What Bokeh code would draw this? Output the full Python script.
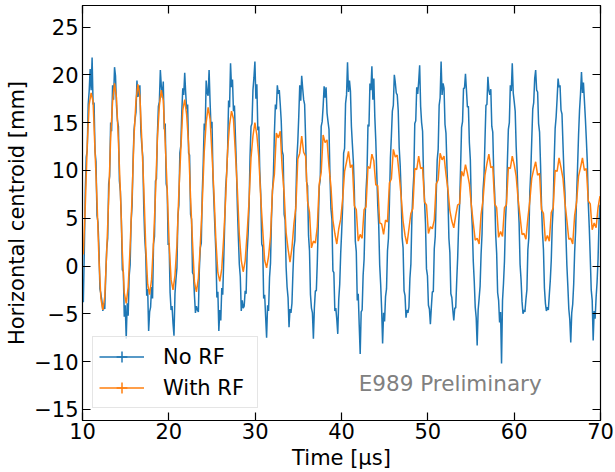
import numpy as np
from bokeh.plotting import figure
from bokeh.models import Range1d, LinearAxis, FixedTicker, Legend, LegendItem, Label
from bokeh.embed import file_html
from bokeh.resources import INLINE

# ---- data ----
# regular sampling grids in microseconds
T0 = 10.0967
DT_NO_RF = 0.112917
DT_WITH_RF = 0.225833

no_rf = [
    -3.8, 1.5, 7.9, 11.4, 12.1, 16.9, 18.3, 20.6, 18.4, 21.8, 16.9, 17.1, 12.0, 10.9, 5.3, 4.6, 1.9, -2.4, -2.9, -3.6, -4.7, -3.9, -4.5, -0.9,
    1.8, 2.9, 8.6, 9.4, 15.0, 14.1, 18.9, 17.4, 20.8, 19.9, 16.8, 15.2, 14.6, 8.9, 7.8, 4.9, -0.4, -0.6, -5.3, -4.1, -7.6, -3.9, -5.2, -1.1,
    0.1, 4.6, 6.3, 10.9, 14.2, 15.3, 16.1, 19.4, 17.7, 18.3, 18.9, 14.1, 12.6, 11.4, 6.1, 2.9, 1.2, -3.1, -2.4, -6.8, -4.8, -4.3, -2.2, -3.4,
    2.3, 3.1, 8.9, 9.1, 13.8, 16.7, 17.2, 20.5, 18.8, 17.6, 19.3, 14.3, 14.9, 8.6, 8.1, 2.2, 2.4, -2.8, -4.6, -4.2, -6.0, -7.3, -2.9, -1.4,
    -0.2, 5.2, 6.4, 11.8, 12.6, 16.1, 18.6, 17.9, 20.2, 18.1, 16.4, 16.9, 11.8, 11.6, 5.4, 4.9, -0.7, -0.9, -3.1, -4.9, -4.2, -4.6, -4.8, -0.4,
    1.9, 2.4, 7.6, 10.8, 14.9, 14.2, 19.4, 18.1, 17.8, 20.5, 17.2, 14.4, 15.1, 9.3, 6.6, 3.9, 1.3, -3.3, -2.7, -6.8, -4.6, -5.7, -2.3, -3.0,
    0.6, 4.4, 8.2, 9.7, 12.0, 17.3, 16.6, 21.2, 18.7, 19.5, 16.2, 16.8, 13.6, 10.5, 6.2, 3.1, 0.2, -1.1, -4.7, -3.6, -4.4, -4.2, -2.6, -2.9,
    1.4, 3.3, 6.2, 11.4, 14.6, 14.9, 18.4, 19.7, 21.4, 17.5, 19.0, 14.2, 14.6, 9.9, 7.5, 2.3, 2.0, -3.4, -3.0, -5.3, -7.5, -4.1, -4.7, -1.2,
    0.3, 5.0, 7.8, 9.6, 13.9, 16.9, 16.4, 18.9, 18.0, 18.4, 16.9, 15.2, 12.0, 11.6, 5.4, 4.8, -0.1, -2.2, -3.3, -6.4, -4.5, -4.9, -3.9, -0.7,
    1.9, 2.7, 6.9, 11.2, 13.0, 15.7, 18.9, 17.3, 19.9, 18.6, 17.4, 16.9, 13.4, 8.8, 8.4, 3.2, 1.6, -3.0, -4.4, -4.9, -7.6, -4.4, -2.6, -2.6,
    0.4, 4.4, 8.3, 9.0, 14.6, 15.1, 16.7, 18.8, 17.6, 18.7, 16.0, 15.1, 14.3, 9.4, 6.0, 4.9, -0.5, -0.7, -4.7, -4.4, -5.6, -7.1, -3.5, -1.9,
    1.3, 3.6, 6.2, 11.8, 12.3, 17.0, 17.9, 21.3, 18.2, 19.4, 18.3, 14.6, 12.7, 10.9, 7.9, 2.6, 1.5, -3.6, -2.9, -6.2, -9.2, -4.8, -4.6, -1.0,
    0.7, 4.8, 7.9, 9.8, 14.8, 14.6, 19.1, 18.4, 20.9, 17.4, 19.6, 15.6, 13.1, 9.7, 6.4, 4.3, 0.1, -1.9, -4.5, -8.1, -4.9, -5.8, -3.2, -2.4,
    1.6, 2.9, 6.7, 11.3, 13.6, 16.2, 16.8, 20.0, 19.2, 18.1, 17.9, 16.3, 12.4, 10.6, 7.7, 3.0, 1.9, -2.6, -3.1, -5.4, -4.6, -4.9, -4.3, -1.3,
    0.2, 4.9, 7.6, 9.5, 14.9, 15.2, 18.7, 18.0, 19.3, 21.0, 16.7, 15.0, 14.1, 9.3, 6.9, 4.4, -0.3, -1.0, -4.1, -4.5, -6.1, -4.3, -2.7, -2.7,
    1.8, 3.1, 7.4, 11.1, 12.2, 16.8, 17.6, 21.4, 17.9, 19.1, 18.6, 14.8, 13.9, 10.4, 7.3, 2.9, 1.4, -2.9, -3.3, -4.6, -5.7, -4.4, -4.4, -1.6,
    0.9, 4.3, 6.5, 10.3, 14.5, 15.1, 18.6, 18.6, 20.1, 18.4, 16.6, 16.7, 12.9, 11.1, 6.3, 4.1, 0.5, -1.6, -4.3, -5.4, -8.3, -4.6, -3.4, -2.1,
    1.2, 3.4, 7.9, 9.4, 13.1, 16.8, 16.9, 19.8, 18.4, 17.9, 18.5, 14.6, 14.0, 9.7, 7.5, 3.3, 1.3, -2.8, -3.6, -5.9, -4.8, -10.2, -3.6, -1.8,
    0.5, 4.6, 6.8, 10.9, 14.3, 15.0, 18.9, 18.3, 21.2, 18.1, 17.2, 16.2, 12.5, 10.1, 6.8, 4.5, 0.2, -1.4, -3.7, -5.0, -4.6, -4.8, -3.5, -2.5,
    1.7, 3.0, 7.7, 9.9, 13.2, 16.4, 17.1, 19.6, 20.5, 18.4, 18.2, 14.9, 14.0, 10.6, 6.4, 3.5, 1.7, -2.3, -3.9, -4.7, -4.3, -4.6, -3.0, -1.5,
    0.6, 4.2, 6.2, 11.0, 14.4, 15.6, 17.5, 19.6, 18.7, 18.9, 16.3, 15.9, 12.8, 9.8, 7.7, 3.4, 0.1, -2.1, -4.5, -5.6, -8.0, -4.9, -4.0, -1.9,
    1.5, 3.7, 7.3, 10.4, 13.7, 16.3, 18.0, 20.3, 18.1, 19.2, 17.3, 15.4, 13.2, 10.8, 6.5, 4.0, 0.9, -2.5, -3.6, -7.8, -4.7, -5.5, -3.3, -1.7,
    0.7, 4.6, 6.4,
]

with_rf = [
    1.2, 6.3, 12.6, 16.9, 18.1, 17.2, 12.0, 6.9, 0.8, -3.4, -4.6, -3.2,
    1.6, 7.0, 13.4, 17.2, 19.1, 17.6, 13.0, 7.8, 1.5, -2.8, -3.9, -2.2,
    2.0, 7.3, 13.6, 17.3, 19.0, 17.8, 13.1, 8.2, 2.1, -1.9, -3.0, -1.4,
    2.5, 7.5, 13.4, 16.8, 18.4, 17.3, 12.9, 8.1, 2.4, -1.4, -2.5, -1.0,
    2.2, 7.7, 12.2, 16.3, 17.4, 15.8, 12.7, 7.1, 2.5, -1.7, -2.7, -1.3,
    2.3, 6.6, 11.9, 15.0, 16.6, 15.4, 11.7, 7.6, 2.6, -0.7, -1.6, -0.3,
    3.0, 7.1, 12.1, 14.8, 16.2, 15.4, 11.8, 8.0, 3.3, 0.6, -0.6, 0.5,
    3.4, 6.8, 11.3, 13.6, 15.0, 13.7, 11.4, 7.1, 3.8, 0.6, -0.2, 1.0,
    3.1, 7.9, 9.6, 13.9, 13.4, 14.1, 10.2, 7.6, 3.5, 1.8, 0.4, 1.9,
    4.4, 6.1, 11.2, 11.8, 13.6, 11.9, 11.5, 6.8, 5.6, 1.9, 2.6, 2.4,
    4.1, 8.6, 9.8, 13.7, 12.9, 13.2, 10.4, 8.3, 4.8, 3.4, 2.3, 3.9,
    4.9, 7.0, 9.9, 10.9, 12.0, 10.3, 10.6, 6.3, 5.9, 2.6, 3.3, 2.9,
    5.9, 6.2, 10.4, 10.2, 11.7, 11.0, 8.5, 8.4, 4.5, 4.4, 3.3, 4.8,
    4.6, 8.7, 9.1, 12.2, 11.4, 11.6, 9.6, 7.3, 4.7, 3.2, 2.3, 3.9,
    5.5, 6.0, 10.2, 10.1, 11.5, 10.2, 10.3, 6.7, 6.4, 3.4, 4.1, 3.9,
    4.8, 8.6, 9.0, 11.8, 11.1, 11.5, 9.6, 8.0, 5.8, 4.7, 4.0, 5.3,
    6.4, 6.5, 9.9, 9.4, 10.6, 9.7, 8.6, 6.4, 4.5, 2.7, 2.9, 2.3,
    5.4, 6.9, 9.5, 10.7, 11.7, 10.3, 10.4, 6.5, 6.1, 3.0, 3.6, 3.1,
    6.1, 6.4, 10.3, 10.2, 11.5, 10.6, 9.4, 7.0, 5.2, 3.3, 3.4, 2.8,
    5.0, 6.8, 9.2, 10.1, 10.9, 9.5, 9.7, 5.9, 5.5, 2.6, 3.2, 2.6,
    5.6, 6.1, 10.0, 9.9, 11.3, 10.3, 9.2, 6.7, 4.8, 2.8, 2.9, 2.3,
    5.3, 6.7, 9.4, 10.3, 11.3, 10.0, 10.2, 6.8, 6.5, 3.8, 4.5, 4.0,
    6.1, 7.3,
]

time_no_rf = T0 + DT_NO_RF * np.arange(len(no_rf))
time_with_rf = T0 + DT_WITH_RF * np.arange(len(with_rf))

series_labels = ["No RF", "With RF"]
series_colors = ["#1f77b4", "#ff7f0e"]

x_ticks = [10, 20, 30, 40, 50, 60, 70]
y_ticks = [-15, -10, -5, 0, 5, 10, 15, 20, 25]
y_tick_labels = {-15: "\u221215", -10: "\u221210", -5: "\u22125", 0: "0",
                 5: "5", 10: "10", 15: "15", 20: "20", 25: "25"}

x_title = "Time [\u03bcs]"
y_title = "Horizontal centroid [mm]"
watermark = "E989 Preliminary"

FONT = "DejaVu Sans"
FS = "21px"

# ---- figure ----
p = figure(width=615, height=472, output_backend="svg", toolbar_location=None,
           x_range=Range1d(10, 70), y_range=Range1d(-16.16, 27.25),
           min_border_left=82, min_border_right=15, min_border_top=5,
           min_border_bottom=52, x_axis_label=x_title, y_axis_label=y_title)
p.grid.visible = False
p.outline_line_color = "black"
p.outline_line_width = 1.2
p.background_fill_color = "white"
p.border_fill_color = "white"

bottom_ax = p.below[0]
left_ax = p.left[0]
bottom_ax.ticker = FixedTicker(ticks=x_ticks)
left_ax.ticker = FixedTicker(ticks=y_ticks)
left_ax.major_label_overrides = y_tick_labels

right_ax = LinearAxis(ticker=FixedTicker(ticks=y_ticks))
top_ax = LinearAxis(ticker=FixedTicker(ticks=x_ticks))
p.add_layout(right_ax, "right")
p.add_layout(top_ax, "above")

for ax in [bottom_ax, left_ax, right_ax, top_ax]:
    ax.major_tick_in = 8
    ax.major_tick_out = 0
    ax.minor_tick_line_color = None
    ax.axis_line_color = "black"
    ax.major_tick_line_color = "black"
    ax.major_tick_line_width = 1.2
    ax.major_label_text_font = FONT
    ax.major_label_text_font_size = FS
    ax.major_label_text_color = "black"
    ax.axis_label_text_font = FONT
    ax.axis_label_text_font_size = FS
    ax.axis_label_text_font_style = "normal"
    ax.axis_label_text_color = "black"

# tick marks only on the top and right sides
for ax in [right_ax, top_ax]:
    ax.major_label_text_font_size = "1px"
    ax.major_label_text_color = None
    ax.major_label_standoff = 0

bottom_ax.major_label_standoff = 2
bottom_ax.axis_label_standoff = 4
left_ax.major_label_standoff = 4
left_ax.axis_label_standoff = 2

# ---- data lines ----
r_blue = p.line(time_no_rf, no_rf, line_color=series_colors[0], line_width=1.5)
r_orange = p.line(time_with_rf, with_rf, line_color=series_colors[1], line_width=1.5)

# error-bar crosses used for the legend symbols (zero size on the data)
c_blue = p.scatter(time_no_rf, no_rf, marker="cross", size=0,
                   line_color=series_colors[0], line_width=1.5)
c_orange = p.scatter(time_with_rf, with_rf, marker="cross", size=0,
                     line_color=series_colors[1], line_width=1.5)

legend = Legend(items=[
    LegendItem(label=series_labels[0], renderers=[r_blue, c_blue]),
    LegendItem(label=series_labels[1], renderers=[r_orange, c_orange]),
], location=(10, 12), margin=0, padding=6, spacing=4,
    glyph_width=45, glyph_height=27, label_standoff=19, label_width=88,
    label_text_font=FONT, label_text_font_size=FS, label_text_color="black",
    border_line_color="#cccccc", border_line_width=1,
    background_fill_color="white", background_fill_alpha=0.8)
p.add_layout(legend)

p.add_layout(Label(x=42, y=-12.3, text=watermark, text_font=FONT,
                   text_font_size="21.5px", text_color="#808080",
                   text_baseline="middle", text_align="left"))

open("out.html", "w").write(file_html(p, INLINE))
